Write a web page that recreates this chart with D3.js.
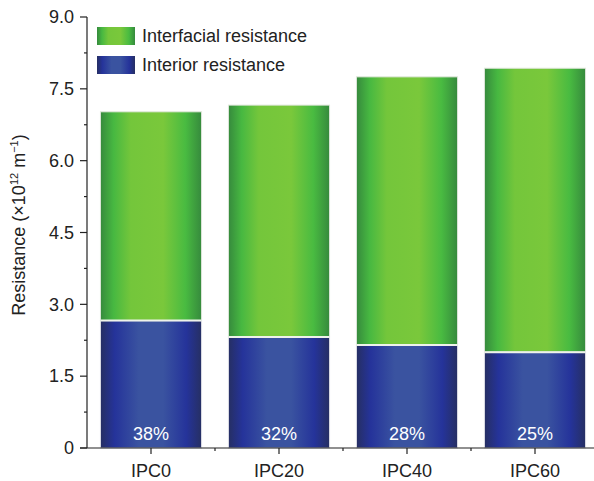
<!DOCTYPE html>
<html>
<head>
<meta charset="utf-8">
<script src="https://cdn.jsdelivr.net/npm/d3@7"></script>
<style>
  body { margin: 0; background: #fff; }
  text { font-family: "Liberation Sans", Arial, sans-serif; }
</style>
</head>
<body>
<div id="chart"></div>
<script>
const categories = ['IPC0', 'IPC20', 'IPC40', 'IPC60'];
const interior = [2.66, 2.32, 2.15, 2.00];
const interfacial = [4.36, 4.84, 5.60, 5.93];
const percentLabels = ['38%', '32%', '28%', '25%'];
const yTicks = [0, 1.5, 3.0, 4.5, 6.0, 7.5, 9.0];
const seriesNames = ['Interfacial resistance', 'Interior resistance'];

const width = 594, height = 481;
const margin = { top: 17, right: -5, bottom: 33, left: 87 };
const fs = 18;

const svg = d3.select('#chart').append('svg')
  .attr('width', width).attr('height', height);

const defs = svg.append('defs');
function gradient(id, stops) {
  const g = defs.append('linearGradient').attr('id', id)
    .attr('x1', '0%').attr('x2', '100%').attr('y1', '0%').attr('y2', '0%');
  stops.forEach(([o, c]) => g.append('stop').attr('offset', o).attr('stop-color', c));
}
gradient('green', [[0, '#368a3d'], [0.13, '#47b841'], [0.3, '#74c63b'], [0.62, '#7ac83b'], [0.84, '#49bb41'], [1, '#368a3d']]);
gradient('blue', [[0, '#262f63'], [0.14, '#25339a'], [0.38, '#3a53a0'], [0.62, '#3a53a0'], [0.85, '#25339a'], [1, '#262f63']]);

const x = d3.scaleBand().domain(categories)
  .range([margin.left, width - margin.right]).paddingInner(0.21).paddingOuter(0.105);
const y = d3.scaleLinear().domain([0, 9]).range([height - margin.bottom, margin.top]);

const data = categories.map((c, i) => ({
  cat: c, interior: interior[i], interfacial: interfacial[i], label: percentLabels[i]
}));

const bars = svg.append('g').selectAll('g').data(data).join('g');

bars.append('rect')
  .attr('x', d => x(d.cat)).attr('width', x.bandwidth())
  .attr('y', d => y(d.interior + d.interfacial))
  .attr('height', d => y(d.interior) - y(d.interior + d.interfacial))
  .attr('fill', 'url(#green)')
  .attr('stroke', '#dfe6da').attr('stroke-width', 1);

bars.append('rect')
  .attr('x', d => x(d.cat)).attr('width', x.bandwidth())
  .attr('y', d => y(d.interior))
  .attr('height', d => y(0) - y(d.interior))
  .attr('fill', 'url(#blue)')
  .attr('stroke', '#dcdde6').attr('stroke-width', 1);

bars.append('line')
  .attr('x1', d => x(d.cat)).attr('x2', d => x(d.cat) + x.bandwidth())
  .attr('y1', d => y(d.interior)).attr('y2', d => y(d.interior))
  .attr('stroke', '#eef2ea').attr('stroke-width', 2);

bars.append('text')
  .attr('x', d => x(d.cat) + x.bandwidth() / 2)
  .attr('y', y(0) - 8)
  .attr('text-anchor', 'middle')
  .attr('fill', '#fff').attr('font-size', fs)
  .text(d => d.label);

// y axis
const yAxis = svg.append('g').attr('transform', `translate(${margin.left},0)`);
yAxis.append('line').attr('y1', y(0)).attr('y2', y(9)).attr('stroke', '#222').attr('stroke-width', 1.2);
const minor = d3.range(0.75, 9, 1.5);
yAxis.selectAll('.minor').data(minor).join('line')
  .attr('x1', -3).attr('x2', 0).attr('y1', d => y(d)).attr('y2', d => y(d))
  .attr('stroke', '#222').attr('stroke-width', 1.2);
yAxis.selectAll('.major').data(yTicks).join('line')
  .attr('x1', -7).attr('x2', 0).attr('y1', d => y(d)).attr('y2', d => y(d))
  .attr('stroke', '#222').attr('stroke-width', 1.2);
yAxis.selectAll('text').data(yTicks).join('text')
  .attr('x', -13).attr('y', d => y(d)).attr('dy', '0.35em')
  .attr('text-anchor', 'end').attr('font-size', fs).attr('fill', '#222')
  .text(d => d === 0 ? '0' : d.toFixed(1));

// y axis title
const title = svg.append('text')
  .attr('transform', `translate(25,225) rotate(-90)`)
  .attr('text-anchor', 'middle').attr('font-size', fs).attr('fill', '#222');
title.append('tspan').text('Resistance (×10');
title.append('tspan').attr('font-size', 11).attr('dy', -7).text('12');
title.append('tspan').attr('dy', 7).text(' m');
title.append('tspan').attr('font-size', 11).attr('dy', -7).text('−1');
title.append('tspan').attr('dy', 7).text(')');

// x axis
const xAxis = svg.append('g').attr('transform', `translate(0,${y(0)})`);
xAxis.append('line').attr('x1', margin.left - 7).attr('x2', width - margin.right)
  .attr('stroke', '#222').attr('stroke-width', 1.2);
xAxis.selectAll('.major').data(categories).join('line')
  .attr('x1', d => x(d) + x.bandwidth() / 2).attr('x2', d => x(d) + x.bandwidth() / 2)
  .attr('y1', 0).attr('y2', 6).attr('stroke', '#222').attr('stroke-width', 1.2);
xAxis.selectAll('.minor').data(categories.slice(1)).join('line')
  .attr('x1', d => x(d) - x.step() * x.paddingInner() / 2)
  .attr('x2', d => x(d) - x.step() * x.paddingInner() / 2)
  .attr('y1', 0).attr('y2', 3).attr('stroke', '#222').attr('stroke-width', 1.2);
xAxis.selectAll('text').data(categories).join('text')
  .attr('x', d => x(d) + x.bandwidth() / 2).attr('y', 29)
  .attr('text-anchor', 'middle').attr('font-size', fs).attr('fill', '#222')
  .text(d => d);

// legend
const legend = svg.append('g').attr('transform', 'translate(97,27)');
const legendFills = ['url(#green)', 'url(#blue)'];
seriesNames.forEach((name, i) => {
  const g = legend.append('g').attr('transform', `translate(0,${i * 29})`);
  g.append('rect').attr('width', 38).attr('height', 18).attr('fill', legendFills[i]);
  g.append('text').attr('x', 45).attr('y', 9).attr('dy', '0.35em')
    .attr('font-size', fs).attr('fill', '#222').text(name);
});
</script>
</body>
</html>
